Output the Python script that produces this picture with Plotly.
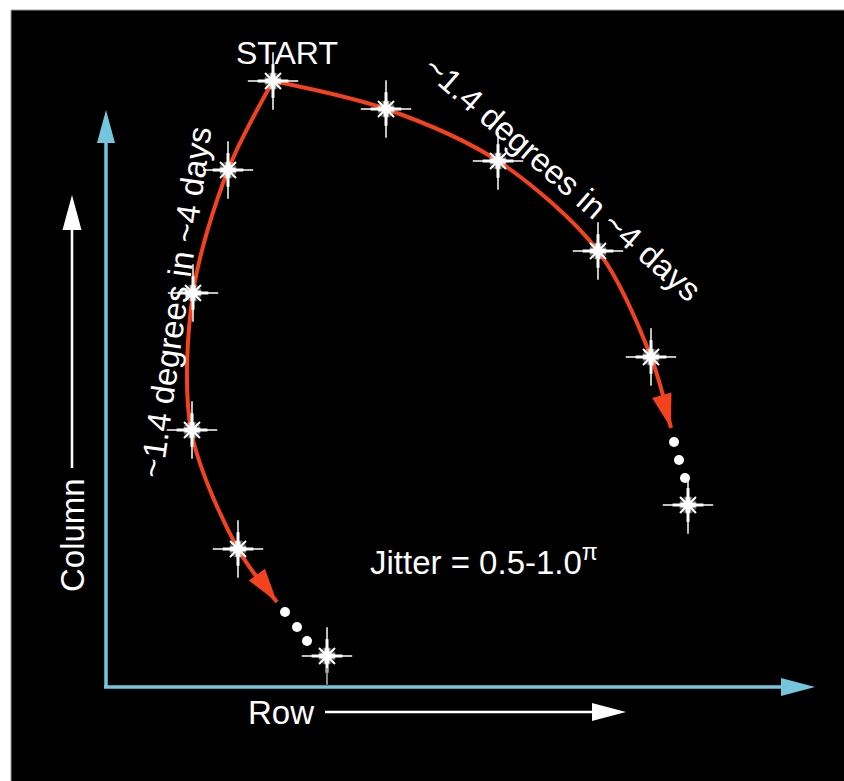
import math
import plotly.graph_objects as go

W, H = 844, 781

# Star (observation) positions, in picture units
star_x = [273, 386, 498, 598, 651, 688, 228, 193, 192, 238, 327]
star_y = [81, 109, 161, 251, 357, 505, 170, 293, 430, 549, 656]

# Red tracks (start -> arrow tip)
right_x = [273, 386, 498, 598, 651, 671]
right_y = [81, 109, 161, 251, 357, 428]
left_x = [273, 228, 193, 191, 238, 277]
left_y = [81, 170, 293, 430, 549, 602]

# ellipsis dots
dots_x = [674, 679, 685, 285, 297, 307]
dots_y = [442, 460, 478, 612, 627, 641]

label_track = "~1.4 degrees in ~4 days"
label_jitter = "Jitter = 0.5-1.0<sup>π</sup>"

RED = "#f4421f"
CYAN = "#74c6dc"
WHITE = "#ffffff"
FONT = "Liberation Sans, Arial, sans-serif"


def tri(tipx, tipy, dx, dy, length, half):
    # triangle arrowhead path with tip and direction (dx, dy)
    bx, by = tipx - dx * length, tipy - dy * length
    px, py = -dy * half, dx * half
    return (f"M{tipx},{tipy} L{bx + px},{by + py} L{bx - px},{by - py} Z")


fig = go.Figure()
head_shapes = []


def track(xs, ys):
    fig.add_trace(go.Scatter(
        x=xs, y=ys, mode="lines",
        line=dict(color=RED, width=4, shape="spline", smoothing=0.9, backoff=22),
        hoverinfo="skip", showlegend=False))
    dx, dy = xs[-1] - xs[-2], ys[-1] - ys[-2]
    n = math.hypot(dx, dy)
    head_shapes.append(dict(type="path",
                            path=tri(xs[-1], ys[-1], dx / n, dy / n, 34, 10),
                            fillcolor=RED, line=dict(width=0), layer="above"))


track(right_x, right_y)
track(left_x, left_y)

fig.add_trace(go.Scatter(x=dots_x, y=dots_y, mode="markers",
                         marker=dict(symbol="circle", size=10, color=WHITE),
                         hoverinfo="skip", showlegend=False))

# sparkle stars: layered markers
layers = [
    ("circle", 18, 0, 0.3),
    ("line-ns", 41, 1.5, 1),
    ("line-ew", 36, 1.5, 1),
    ("line-ns", 24, 3, 1),
    ("line-ew", 22, 3, 1),
    ("x-thin", 16, 2, 1),
    ("line-ns", 11, 5, 1),
    ("line-ew", 11, 5, 1),
    ("circle", 10, 0, 1),
]
for sym, size, lw, op in layers:
    fig.add_trace(go.Scatter(
        x=star_x, y=star_y, mode="markers",
        marker=dict(symbol=sym, size=size, color=WHITE, opacity=op,
                    line=dict(color=WHITE, width=lw)),
        hoverinfo="skip", showlegend=False))


shapes = [
    dict(type="rect", x0=11, y0=10, x1=W + 2, y1=H + 2,
         fillcolor="black", line=dict(color="#9a9a9a", width=1), layer="below"),
    # cyan axes
    dict(type="line", x0=106, y0=688, x1=106, y1=140, line=dict(color=CYAN, width=3.5)),
    dict(type="line", x0=104, y0=687, x1=784, y1=687, line=dict(color=CYAN, width=3.5)),
    dict(type="path", path=tri(106, 110, 0, -1, 33, 9), fillcolor=CYAN, line=dict(width=0)),
    dict(type="path", path=tri(815, 687, 1, 0, 34, 9), fillcolor=CYAN, line=dict(width=0)),
    # thin line under last star
    dict(type="line", x0=327, y0=668, x1=327, y1=686, line=dict(color="#555555", width=1)),
    # white label arrows
    dict(type="line", x0=72, y0=468, x1=72, y1=228, line=dict(color=WHITE, width=2.5)),
    dict(type="path", path=tri(72, 195, 0, -1, 35, 9.5), fillcolor=WHITE, line=dict(width=0)),
    dict(type="line", x0=325, y0=712, x1=593, y1=712, line=dict(color=WHITE, width=2.5)),
    dict(type="path", path=tri(626, 712, 1, 0, 34, 9), fillcolor=WHITE, line=dict(width=0)),
] + head_shapes

annotations = [
    dict(x=287, y=53, text="START", textangle=0, size=32),
    dict(x=563, y=178, text=label_track, textangle=41, size=33),
    dict(x=175, y=302, text=label_track, textangle=-82, size=33),
    dict(x=484, y=560, text=label_jitter, textangle=0, size=33),
    dict(x=72, y=535, text="Column", textangle=-90, size=33),
    dict(x=281, y=712, text="Row", textangle=0, size=33),
]
for a in annotations:
    s = a.pop("size")
    a.update(xref="x", yref="y", showarrow=False,
             font=dict(family=FONT, size=s, color=WHITE),
             xanchor="center", yanchor="middle")

fig.update_layout(
    width=W, height=H, autosize=False,
    margin=dict(l=0, r=0, t=0, b=0),
    paper_bgcolor="white", plot_bgcolor="white",
    xaxis=dict(range=[0, W], visible=False, fixedrange=True),
    yaxis=dict(range=[H, 0], visible=False, fixedrange=True),
    shapes=shapes, annotations=annotations,
    showlegend=False,
)

fig.write_html(
    "out.html",
    config={"displayModeBar": False, "staticPlot": True},
    post_script="document.body.style.margin='0';document.body.style.overflow='hidden';",
)
